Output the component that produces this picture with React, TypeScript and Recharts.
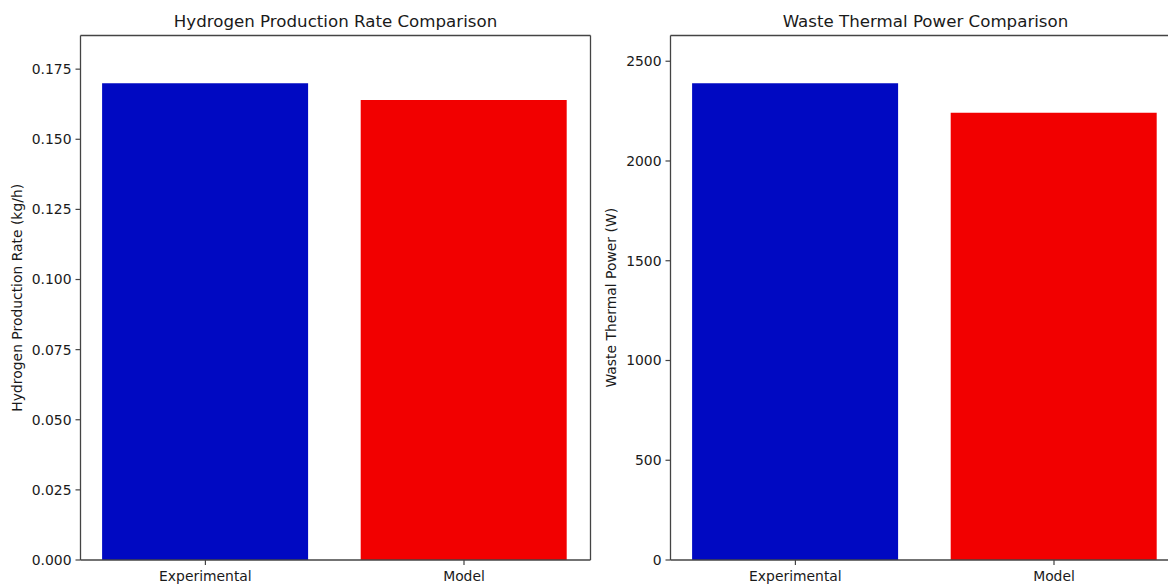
import React from 'react';
import { BarChart, Bar, XAxis, YAxis, Cell, CartesianGrid } from 'recharts';

const categories = ['Experimental', 'Model'];
const hydrogenRate = [0.17, 0.164];
const wastePower = [2390, 2242];
const hydrogenTicks = [0, 0.025, 0.05, 0.075, 0.1, 0.125, 0.15, 0.175];
const powerTicks = [0, 500, 1000, 1500, 2000, 2500];
const COLORS = ['#0009C2', '#F20000'];

const FONT = '"DejaVu Sans", sans-serif';
const SPINE = '#444';
const TEXT = '#1a1a1a';

interface PanelProps {
  title: string;
  yLabel: string;
  values: number[];
  ticks: number[];
  yMax: number;
  fmt: (v: number) => string;
  left: number;
  labelDx: number;
}

// top + right spines, matplotlib style box
const topLine = ({ offset }: any) => [offset.top];
const rightLine = ({ offset }: any) => [offset.left + offset.width];

const Panel: React.FC<PanelProps> = ({ title, yLabel, values, ticks, yMax, fmt, left, labelDx }) => {
  const rows = categories.map((name, i) => ({ name, value: values[i] }));
  const tickStyle = { fontSize: 13.9, fill: TEXT, fontFamily: FONT };
  return (
    <div style={{ position: 'absolute', left, top: 0, width: 600, height: 584 }}>
      <div
        style={{
          position: 'absolute',
          left: 80.5,
          width: 510,
          top: 14,
          textAlign: 'center',
          fontSize: 16.67,
          lineHeight: 1,
          color: TEXT,
          fontFamily: FONT,
        }}
      >
        {title}
      </div>
      <BarChart width={600} height={584} data={rows} margin={{ top: 35.5, right: 9.5, bottom: 0, left: 0 }}>
        <CartesianGrid
          stroke={SPINE}
          strokeWidth={1.3}
          horizontalCoordinatesGenerator={topLine}
          verticalCoordinatesGenerator={rightLine}
        />
        <XAxis
          dataKey="name"
          height={24}
          padding={{ left: -4.4, right: -2.8 }}
          tick={tickStyle}
          tickSize={5}
          tickMargin={6}
          axisLine={{ stroke: SPINE, strokeWidth: 1.3 }}
          tickLine={{ stroke: SPINE, strokeWidth: 1.2 }}
        />
        <YAxis
          width={80.5}
          domain={[0, yMax]}
          ticks={ticks}
          tickFormatter={fmt}
          tick={tickStyle}
          tickSize={5}
          tickMargin={4}
          axisLine={{ stroke: SPINE, strokeWidth: 1.3 }}
          tickLine={{ stroke: SPINE, strokeWidth: 1.2 }}
          label={{
            value: yLabel,
            angle: -90,
            position: 'center',
            dx: labelDx,
            style: { fontSize: 13.9, fill: TEXT, fontFamily: FONT, textAnchor: 'middle' },
          }}
        />
        <Bar dataKey="value" barSize={206} isAnimationActive={false}>
          {rows.map((r, i) => (
            <Cell key={`cell-${i}`} fill={COLORS[i % COLORS.length]} />
          ))}
        </Bar>
      </BarChart>
    </div>
  );
};

const App: React.FC = () => {
  return (
    <div
      style={{
        position: 'absolute',
        left: 0,
        top: 0,
        width: 1168,
        height: 584,
        overflow: 'hidden',
        background: '#fff',
      }}
    >
      <Panel
        title="Hydrogen Production Rate Comparison"
        yLabel="Hydrogen Production Rate (kg/h)"
        values={hydrogenRate}
        ticks={hydrogenTicks}
        yMax={0.187}
        fmt={(v) => v.toFixed(3)}
        left={0}
        labelDx={-23}
      />
      <Panel
        title="Waste Thermal Power Comparison"
        yLabel="Waste Thermal Power (W)"
        values={wastePower}
        ticks={powerTicks}
        yMax={2629}
        fmt={(v) => String(v)}
        left={590}
        labelDx={-19}
      />
    </div>
  );
};

export default App;
